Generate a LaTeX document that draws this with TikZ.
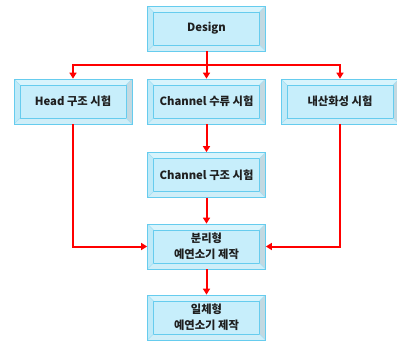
\documentclass[tikz,border=0pt]{standalone}
\usepackage{fontspec}
\setmainfont{Noto Sans CJK KR}
\usetikzlibrary{calc,arrows.meta}
\definecolor{bcol}{HTML}{66CCEE}
\definecolor{face}{HTML}{C7EEFB}
\definecolor{btop}{HTML}{D8F4FC}
\definecolor{bleft}{HTML}{BFEAF8}
\definecolor{bright}{HTML}{C3D9E1}
\definecolor{bbot}{HTML}{CFEEF8}
\definecolor{arrred}{HTML}{FF0000}
\begin{document}
\begin{tikzpicture}[x=1pt,y=1pt,
  bevelbox/.style={draw=bcol, line width=0.7pt, fill=face,
    minimum width=118pt, minimum height=45pt, inner sep=0pt,
    font=\fontsize{11.3}{16}\selectfont\bfseries, text=black!88, align=center,
    path picture={
      \path (path picture bounding box.south west) coordinate (psw)
            (path picture bounding box.north east) coordinate (pne);
      \fill[btop] (psw|-pne) -- (pne) -- ($(pne)+(-6,-6)$) -- ($(psw|-pne)+(6,-6)$) -- cycle;
      \fill[bleft] (psw) -- (psw|-pne) -- ($(psw|-pne)+(6,-6)$) -- ($(psw)+(6,6)$) -- cycle;
      \fill[bright] (pne) -- (pne|-psw) -- ($(pne|-psw)+(-6,6)$) -- ($(pne)+(-6,-6)$) -- cycle;
      \fill[bbot] (psw) -- (pne|-psw) -- ($(pne|-psw)+(-6,6)$) -- ($(psw)+(6,6)$) -- cycle;
      \draw[bcol, line width=0.6pt] ($(psw)+(6,6)$) rectangle ($(pne)+(-6,-6)$);
      \draw[bcol!60, line width=0.4pt] (psw) -- ($(psw)+(6,6)$)
        (pne) -- ($(pne)+(-6,-6)$)
        (psw|-pne) -- ($(psw|-pne)+(6,-6)$)
        (pne|-psw) -- ($(pne|-psw)+(-6,6)$);
    }},
  arr/.style={draw=arrred, line width=2pt, -{Triangle[length=6pt,width=7pt]}},
  lin/.style={draw=arrred, line width=2pt}]
\useasboundingbox (0,0) rectangle (397,-343);
\node[bevelbox] (d) at (206.5,-28.5) {Design};
\node[bevelbox] (h) at (73,-101.5) {Head 구조 시험};
\node[bevelbox] (c) at (206.5,-101.5) {Channel 수류 시험};
\node[bevelbox] (o) at (340,-101.5) {내산화성 시험};
\node[bevelbox] (s) at (206.5,-175) {Channel 구조 시험};
\node[bevelbox] (p) at (206.5,-246.5) {분리형\\예연소기 제작};
\node[bevelbox] (q) at (206.5,-317.5) {일체형\\예연소기 제작};
\coordinate (j) at (206.5,-65);
\draw[lin] (d.south) -- (j);
\draw[arr] (j) -- (c.north);
\draw[arr] (j) -| (h.north);
\draw[arr] (j) -| (o.north);
\draw[arr] (c.south) -- (s.north);
\draw[arr] (s.south) -- (p.north);
\draw[arr] (h.south) |- (p.west);
\draw[arr] (o.south) |- (p.east);
\draw[arr] (p.south) -- (q.north);
\end{tikzpicture}
\end{document}
